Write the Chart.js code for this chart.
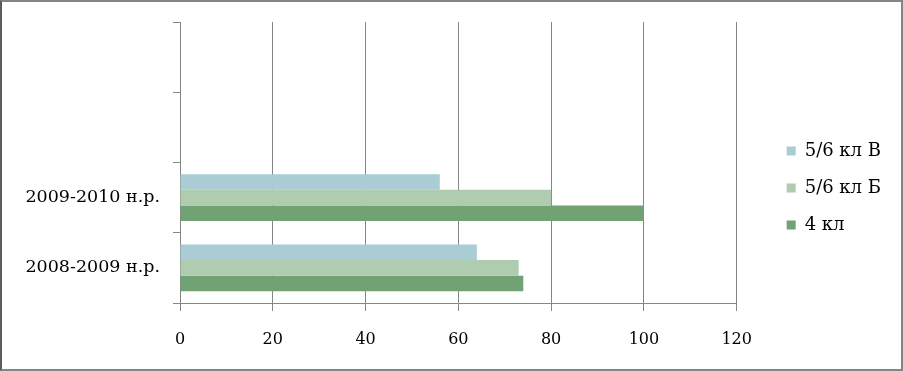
<!DOCTYPE html>
<html>
<head>
<meta charset="utf-8">
<script src="https://cdn.jsdelivr.net/npm/chart.js@4"></script>
<style>
  html, body { margin: 0; padding: 0; background: #fff; }
  #frame {
    width: 903px; height: 371px; box-sizing: border-box;
    border: 2px solid #858585; border-left-color: #5c5c5c;
  }
  #chart { display: block; }
</style>
</head>
<body>
<div id="frame"><canvas id="chart" width="899" height="367"></canvas></div>
<script>
// categories top to bottom (two empty slots above the data)
const years = ["", "", "2009-2010 н.р.", "2008-2009 н.р."];

const seriesNames = ["5/6 кл В", "5/6 кл Б", "4 кл"];
const class56V = [null, null, 56, 64];
const class56B = [null, null, 80, 73];
const class4 = [null, null, 100, 74];

const xTicks = [0, 20, 40, 60, 80, 100, 120];

const colors = ["#a9ccd5", "#b0ccb0", "#70a274"];
const gridColor = "#868686";

new Chart(document.getElementById("chart"), {
  type: 'bar',
  data: {
    labels: years,
    datasets: [class56V, class56B, class4].map((d, i) => ({
      label: seriesNames[i],
      data: d,
      backgroundColor: colors[i],
      borderWidth: 0,
      barPercentage: 1,
      categoryPercentage: 0.664
    }))
  },
  options: {
    indexAxis: 'y',
    responsive: false,
    animation: false,
    layout: { padding: { top: 20, right: 10, bottom: 15, left: 0 } },
    plugins: {
      tooltip: { enabled: false },
      legend: {
        position: 'right',
        labels: {
          boxWidth: 9,
          boxHeight: 9,
          padding: 19,
          color: '#000',
          font: { family: "'DejaVu Serif'", size: 18 }
        }
      }
    },
    scales: {
      x: {
        min: xTicks[0],
        max: xTicks[xTicks.length - 1],
        ticks: {
          stepSize: 20,
          color: '#000',
          padding: 19,
          font: { family: "'DejaVu Serif'", size: 16 }
        },
        grid: { color: gridColor, tickLength: 8 },
        border: { color: gridColor },
        afterFit: s => { s.height = 51; }
      },
      y: {
        ticks: {
          color: '#000',
          padding: 13,
          font: { family: "'DejaVu Serif'", size: 17.5 }
        },
        grid: { color: gridColor, offset: true, drawOnChartArea: false, tickLength: 7 },
        border: { color: gridColor },
        afterFit: s => { s.width = 178; s.paddingTop = 0; s.paddingBottom = 0; }
      },
      // empty spacer between plot and legend
      gap: {
        type: 'linear',
        axis: 'y',
        position: 'right',
        ticks: { display: false },
        grid: { display: false },
        border: { display: false },
        afterFit: s => { s.width = 31; }
      }
    }
  }
});
</script>
</body>
</html>
